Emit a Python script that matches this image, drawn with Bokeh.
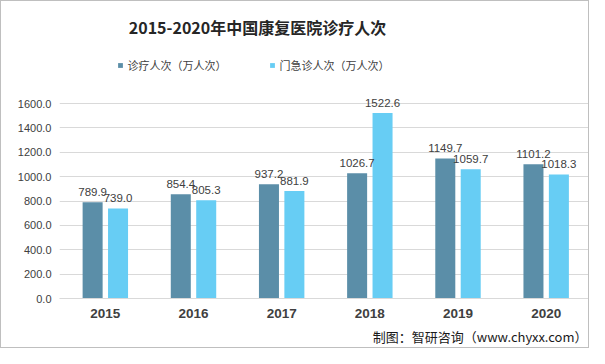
from bokeh.plotting import figure
from bokeh.models import (ColumnDataSource, Range1d, FixedTicker, NumeralTickFormatter,
                          Legend, LegendItem, Label, LabelSet, Title)
from bokeh.core.properties import value
from bokeh.transform import dodge
from bokeh.embed import file_html
from bokeh.resources import INLINE

years = ["2015", "2016", "2017", "2018", "2019", "2020"]
diagnosis = [789.9, 854.4, 937.2, 1026.7, 1149.7, 1101.2]
outpatient = [739.0, 805.3, 881.9, 1522.6, 1059.7, 1018.3]
series_names = ["诊疗人次（万人次）", "门急诊人次（万人次）"]
y_ticks = [0, 200, 400, 600, 800, 1000, 1200, 1400, 1600]

DARK = "#5b8ea8"
LIGHT = "#67cdf4"
TXT = "#404040"

src = ColumnDataSource(dict(
    x=list(range(len(years))),
    d=diagnosis, o=outpatient,
    dl=[f"{v:.1f}" for v in diagnosis],
    ol=[f"{v:.1f}" for v in outpatient],
))

# frame: x 58.4..587, 88.1 px per category, first category at 104.2
x0 = -(104.2 - 58.4) / 88.1
x1 = x0 + (587 - 58.4) / 88.1
p = figure(width=589, height=348, output_backend="svg", toolbar_location=None,
           x_range=Range1d(x0, x1), y_range=Range1d(0, 2437),
           min_border_left=58, min_border_right=2, min_border_top=0, min_border_bottom=51)
p.outline_line_color = None
p.background_fill_color = "white"
p.border_fill_color = "white"
p.styles = {"border": "1px solid #bfbfbf"}

off = 12.7 / 88.1
bw = 20.0 / 88.1
r1 = p.vbar(x=dodge("x", -off, range=p.x_range), top="d", width=bw, source=src,
            fill_color=DARK, line_color=None)
r2 = p.vbar(x=dodge("x", off, range=p.x_range), top="o", width=bw, source=src,
            fill_color=LIGHT, line_color=None)

for field, lab, dx in (("d", "dl", -off), ("o", "ol", off)):
    ls = LabelSet(x=dodge("x", dx, range=p.x_range), y=field, text=lab, source=src,
                  text_align="center", text_baseline="bottom", y_offset=6,
                  text_font=value("Liberation Sans"), text_font_size=value("11.5px"),
                  text_color=TXT)
    p.add_layout(ls)

# axes
p.yaxis.ticker = FixedTicker(ticks=y_ticks)
p.yaxis.formatter = NumeralTickFormatter(format="0.0")
p.yaxis.axis_line_color = None
p.yaxis.major_tick_line_color = None
p.yaxis.minor_tick_line_color = None
p.yaxis.major_tick_out = 0
p.yaxis.major_tick_in = 0
p.yaxis.major_label_standoff = 8
p.yaxis.major_label_text_font = "Liberation Sans"
p.yaxis.major_label_text_font_size = "11px"
p.yaxis.major_label_text_color = TXT

p.xaxis.ticker = FixedTicker(ticks=list(range(len(years))))
p.xaxis.major_label_overrides = {i: y for i, y in enumerate(years)}
p.xaxis.axis_line_color = "#d9d9d9"
p.xaxis.major_tick_line_color = None
p.xaxis.minor_tick_line_color = None
p.xaxis.major_tick_out = 0
p.xaxis.major_tick_in = 0
p.xaxis.major_label_standoff = 10
p.xaxis.major_label_text_font = "Liberation Sans"
p.xaxis.major_label_text_font_style = "bold"
p.xaxis.major_label_text_font_size = "13.5px"
p.xaxis.major_label_text_color = TXT

p.xgrid.grid_line_color = None
p.ygrid.ticker = FixedTicker(ticks=y_ticks)
p.ygrid.grid_line_color = "#d9d9d9"

legend = Legend(items=[LegendItem(label=series_names[0], renderers=[r1]),
                       LegendItem(label=series_names[1], renderers=[r2])],
                orientation="horizontal", location=(58.4, 225),
                padding=0, margin=0, spacing=43, label_standoff=4,
                glyph_width=6, glyph_height=6, label_height=6,
                label_text_font="Noto Sans CJK SC", label_text_font_size="11px",
                label_text_color=TXT,
                background_fill_alpha=0, border_line_color=None)
p.add_layout(legend, "center")

title = Label(x=255, y=24, x_units="canvas", y_units="canvas",
              text="2015-2020年中国康复医院诊疗人次", text_align="center",
              text_baseline="middle", text_font="Noto Sans CJK SC",
              text_font_style="bold", text_font_size="16px", text_color="#262626")
p.add_layout(title)

footer = Title(text="制图：智研咨询（www.chyxx.com）", align="right",
               text_font="Noto Sans CJK SC", text_font_style="normal",
               text_font_size="13px", text_color="#1a1a1a", standoff=8, offset=1)
p.add_layout(footer, "below")

open("out.html", "w").write(file_html(p, INLINE))
